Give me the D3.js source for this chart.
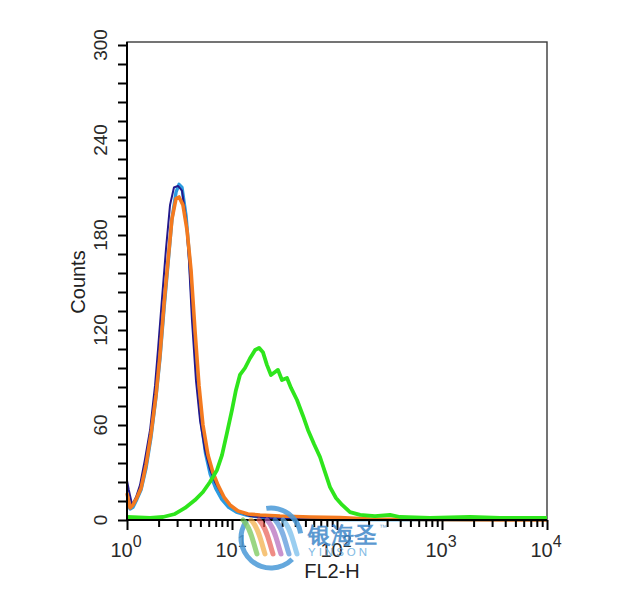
<!DOCTYPE html>
<html>
<head>
<meta charset="utf-8">
<script src="https://cdn.jsdelivr.net/npm/d3@7"></script>
<style>
  html, body { margin: 0; padding: 0; background: #fff; }
  svg { display: block; }
  text { font-family: "Liberation Sans", Arial, Helvetica, sans-serif; }
</style>
</head>
<body>
<svg id="chart" width="624" height="600"></svg>
<script>
// ---- data (FL2-H value, counts) ----
const navySeries = [
  [1.0, 25], [1.04, 19], [1.12, 9.5], [1.22, 14.5], [1.33, 22], [1.48, 38], [1.66, 57],
  [1.85, 85], [1.97, 107], [2.15, 139], [2.35, 171], [2.57, 199], [2.80, 210], [3.06, 211],
  [3.34, 208], [3.65, 190], [3.89, 164], [4.16, 126], [4.54, 88], [4.96, 63], [5.53, 44],
  [6.17, 32], [6.89, 24], [8.03, 16], [9.57, 9.5], [11.9, 5], [14.8, 2.5], [23.0, 1.3],
  [44.4, 0.6], [10000, 0]
];
const lightBlueSeries = [
  [1.0, 12], [1.07, 7], [1.14, 8], [1.24, 13], [1.36, 19], [1.52, 33], [1.69, 52],
  [1.89, 78], [2.06, 102], [2.25, 133], [2.46, 162], [2.68, 190], [2.93, 207], [3.13, 212],
  [3.34, 210], [3.65, 192], [3.98, 162], [4.3, 125], [4.7, 88], [5.1, 62], [5.6, 42],
  [6.2, 29], [7.0, 20], [8.0, 13], [9.3, 8], [11, 5], [14, 3], [20, 1.5], [40, 0.8],
  [100, 0.3], [10000, 0]
];
const orangeSeries = [
  [1.0, 17], [1.07, 7.6], [1.14, 9.5], [1.24, 14], [1.36, 20], [1.52, 35], [1.69, 54],
  [1.89, 79], [2.06, 104], [2.25, 136], [2.46, 164], [2.68, 190], [2.93, 203], [3.13, 204],
  [3.41, 199], [3.73, 183], [4.07, 158], [4.44, 120], [4.85, 85], [5.29, 60], [5.91, 41],
  [6.59, 30], [7.36, 22], [8.39, 14.5], [9.57, 9.5], [11.4, 5.7], [14.2, 3.8], [18.5, 3.2],
  [28.7, 2.5], [55.3, 1.9], [107, 1.6], [206, 0.6], [617, 0.3], [10000, 0]
];
const greenSeries = [
  [1.0, 1.9], [1.66, 1.3], [2.20, 1.9], [2.86, 3.8], [3.57, 7.6], [4.44, 12.6], [5.29, 17.7],
  [6.17, 24], [7.20, 31.6], [8.03, 41], [8.96, 55], [10.0, 69.5], [10.9, 82], [11.9, 91.6],
  [13.3, 96], [14.8, 102], [16.6, 107.4], [18.1, 108.7], [19.7, 106], [21.5, 98], [23.5, 91.6],
  [25.7, 93.5], [27.4, 94.8], [29.9, 88.4], [33.4, 89.7], [36.5, 83.4], [41.6, 75.8],
  [47.5, 65.7], [52.9, 56.9], [60.4, 48], [68.9, 39.8], [76.9, 30.3], [85.8, 20.8],
  [97.8, 13.9], [112, 9.5], [133, 5], [166, 3.2], [230, 2.5], [320, 3.2], [398, 1.9],
  [769, 1.3], [1849, 1.9], [3567, 1.3], [10000, 1.3]
];
const yMajorTicks = [0, 60, 120, 180, 240, 300];
const yMinorStep = 12;
const xDecadeExponents = [0, 1, 2, 3, 4];
const xLabel = "FL2-H";
const yLabel = "Counts";
const watermarkCN = "银海圣";
const watermarkEN = "YINSON";

// ---- layout ----
const svg = d3.select("#chart");
const x = d3.scaleLog().domain([1, 10000]).range([127, 547]);
const y = d3.scaleLinear().domain([0, 300]).range([520, 45]);

// frame
svg.append("rect")
  .attr("x", 127).attr("y", 42).attr("width", 420).attr("height", 478)
  .attr("fill", "none").attr("stroke", "#3a3a3a").attr("stroke-width", 1.4);

// series
const line = d3.line().x(d => x(d[0])).y(d => y(d[1]));
const plot = svg.append("g");
plot.append("path").datum(lightBlueSeries).attr("d", line)
  .attr("fill", "none").attr("stroke", "#2b9be0").attr("stroke-width", 3.4).attr("stroke-linejoin", "round");
plot.append("path").datum(navySeries).attr("d", line)
  .attr("fill", "none").attr("stroke", "#23198c").attr("stroke-width", 2).attr("stroke-linejoin", "round");
plot.append("path").datum(orangeSeries).attr("d", line)
  .attr("fill", "none").attr("stroke", "#f47a1f").attr("stroke-width", 3.6).attr("stroke-linejoin", "round");
plot.append("path").datum(greenSeries).attr("d", line)
  .attr("fill", "none").attr("stroke", "#2ee51c").attr("stroke-width", 3.8).attr("stroke-linejoin", "round");

// y axis
const yTicks = d3.range(0, 301, yMinorStep);
const yAxis = d3.axisLeft(y).tickValues(yTicks).tickSize(9).tickSizeOuter(0).tickFormat("");
const gy = svg.append("g").attr("transform", "translate(127,0)").call(yAxis);
gy.select(".domain").attr("stroke", "#000").attr("stroke-width", 2).attr("d", "M0,520V42");
gy.selectAll(".tick line").attr("stroke", "#000").attr("stroke-width", 2);

svg.append("g").selectAll("text").data(yMajorTicks).join("text")
  .attr("transform", d => `translate(107,${y(d)}) rotate(-90)`)
  .attr("text-anchor", "middle")
  .attr("font-size", 19).attr("fill", "#2a2a2a")
  .text(d => d);

// x axis
const xMinor = [];
for (let e = 0; e < 4; e++) for (let m = 2; m <= 9; m++) xMinor.push(m * Math.pow(10, e));
const xMajor = xDecadeExponents.map(e => Math.pow(10, e));
const gx = svg.append("g").attr("transform", "translate(0,520)");
gx.call(d3.axisBottom(x).tickValues(xMinor).tickSize(7).tickSizeOuter(0).tickFormat(""));
gx.call(g => g.select(".domain").attr("stroke", "#000").attr("stroke-width", 2).attr("d", "M127,0H547"));
gx.selectAll(".tick line").attr("stroke", "#000").attr("stroke-width", 2);
const gx2 = svg.append("g").attr("transform", "translate(0,520)");
gx2.call(d3.axisBottom(x).tickValues(xMajor).tickSize(10).tickFormat(""));
gx2.select(".domain").remove();
gx2.selectAll(".tick line").attr("stroke", "#000").attr("stroke-width", 2);

const xl = svg.append("g").selectAll("text").data(xDecadeExponents).join("text")
  .attr("x", d => x(Math.pow(10, d)) - 1).attr("y", 557)
  .attr("text-anchor", "middle").attr("fill", "#2a2a2a");
xl.append("tspan").attr("font-size", 20).text("10");
xl.append("tspan").attr("font-size", 16).attr("dy", -10).text(d => d);

// axis titles
svg.append("text").attr("x", 332).attr("y", 578).attr("text-anchor", "middle")
  .attr("font-size", 20).attr("fill", "#222").text(xLabel);
svg.append("text").attr("transform", "translate(85,282) rotate(-90)").attr("text-anchor", "middle")
  .attr("font-size", 20).attr("fill", "#222").text(yLabel);

// watermark
const wm = svg.append("g").attr("opacity", 0.85);
const cx = 271, cy = 538, r = 30;
const arc = d3.arc().innerRadius(r - 2.5).outerRadius(r + 2.5);
wm.append("path").attr("transform", `translate(${cx},${cy})`)
  .attr("d", arc({startAngle: -Math.PI * 0.05, endAngle: Math.PI * 0.45}))
  .attr("fill", "#4a9ad8");
wm.append("path").attr("transform", `translate(${cx},${cy})`)
  .attr("d", arc({startAngle: Math.PI * 0.75, endAngle: Math.PI * 1.7}))
  .attr("fill", "#4a9ad8");
const ribbons = [
  {c: "#6cc44a", dx: -22}, {c: "#f2a93b", dx: -14}, {c: "#e8574c", dx: -6},
  {c: "#b061b8", dx: 2}, {c: "#4a8fd8", dx: 10}, {c: "#6bb8ea", dx: 18}
];
ribbons.forEach(rb => {
  const x0 = cx + rb.dx;
  wm.append("path")
    .attr("d", `M${x0 - 6},${cy - 18} C${x0 + 2},${cy - 10} ${x0 + 4},${cy + 4} ${x0 + 8},${cy + 16}`)
    .attr("fill", "none").attr("stroke", rb.c).attr("stroke-width", 5).attr("stroke-linecap", "round")
    .attr("opacity", 0.8);
});
wm.append("text").attr("x", 308).attr("y", 543).attr("font-size", 23)
  .attr("font-family", "Noto Sans CJK SC").attr("font-weight", "bold")
  .attr("fill", "#3f88c9").text(watermarkCN);
wm.append("text").attr("x", 379).attr("y", 530).attr("font-size", 8)
  .attr("fill", "#6a9fd0").text("™");
wm.append("text").attr("x", 308).attr("y", 556).attr("font-size", 11.5)
  .attr("letter-spacing", 3).attr("fill", "#6aaee0").text(watermarkEN);
</script>
</body>
</html>
